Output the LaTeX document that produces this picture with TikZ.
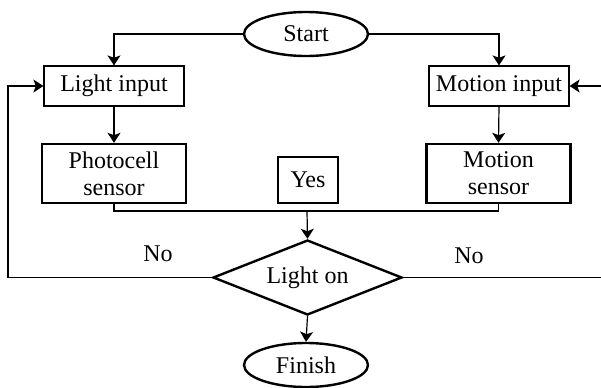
\documentclass[tikz,border=0pt]{standalone}
\usepackage{fontspec}
\setmainfont{Liberation Serif}
\usetikzlibrary{arrows.meta,shapes.geometric}

\tikzset{
  inbox/.style={draw, line width=0.6pt, minimum width=70pt, minimum height=20pt, inner sep=0pt},
  sensorbox/.style={draw, line width=1.2pt, minimum width=72pt, minimum height=29.5pt, inner sep=0pt, align=center},
  term/.style={draw, ellipse, line width=1.2pt, minimum width=62pt, minimum height=22pt, inner sep=0pt},
  arr/.style={-{Stealth[length=5pt,width=6.5pt,inset=1.2pt]}, line width=0.6pt},
  line/.style={line width=0.6pt},
}

\begin{document}
\begin{tikzpicture}[x=0.5pt,y=-0.5pt, font=\fontsize{12}{13.5}\selectfont]
  \useasboundingbox (0,0) rectangle (601,387);

  \node[term] (start) at (306,34) {Start};
  \node[inbox] (light) at (114,86) {Light input};
  \node[inbox] (motion) at (499,86) {Motion input};
  \node[sensorbox] (photo) at (114,173.5) {Photocell\\sensor};
  \node[sensorbox] (msensor) at (498.5,173.5) {Motion\\sensor};
  \node[draw, line width=0.6pt, minimum width=30pt, minimum height=23pt, inner sep=0pt] (yes) at (308,180) {Yes};
  \node[draw, diamond, aspect=2.52, line width=1.2pt, minimum width=94.5pt, minimum height=37.5pt, inner sep=0pt] (dec) at (307.5,277.5) {Light on};
  \node[term] (finish) at (306,365) {Finish};

  \node (nol) at (158,254) {No};
  \node (nor) at (469,256) {No};

  \coordinate (join) at (307,211);
  \coordinate (leftend) at (8,277.5);
  \coordinate (rightend) at (601,277.5);
  \coordinate (rightin) at (601,86);

  \draw[arr] (start.west) -| (light.north);
  \draw[arr] (start.east) -| (motion.north);
  \draw[arr] (light.south) -- (photo.north);
  \draw[arr] (motion.south) -- (msensor.north);
  \draw[line] (photo.south) |- (join) -| (msensor.south); % sensors merge
  \draw[arr] (join) -- (dec.north);
  \draw[arr] (dec.south) -- (finish.north);
  \draw[arr] (dec.west) -- (leftend) |- (light.west); % no: back to light input
  \draw[line] (dec.east) -- (rightend);
  \draw[arr] (rightin) -- (motion.east);
\end{tikzpicture}
\end{document}
